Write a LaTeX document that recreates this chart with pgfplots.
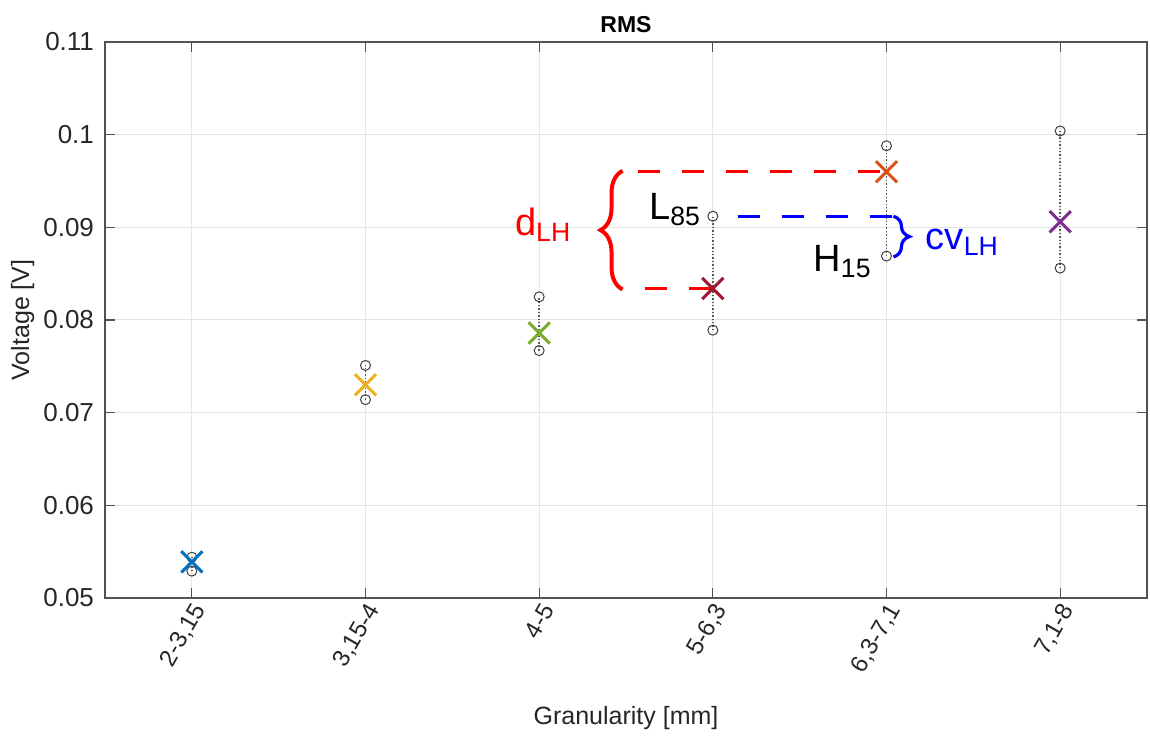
\documentclass[border=0pt]{standalone}
\usepackage{pgfplots}
\pgfplotsset{compat=1.18}
\usepackage{fontspec}
\setmainfont{Liberation Sans}
\usetikzlibrary{decorations.pathreplacing}
\definecolor{mblue}{rgb}{0,0.447,0.741}
\definecolor{myellow}{rgb}{0.929,0.694,0.125}
\definecolor{mgreen}{rgb}{0.466,0.674,0.188}
\definecolor{mdred}{rgb}{0.635,0.078,0.184}
\definecolor{morange}{rgb}{0.85,0.325,0.098}
\definecolor{mpurple}{rgb}{0.494,0.184,0.556}
\definecolor{axgray}{rgb}{0.15,0.15,0.15}
\definecolor{annred}{rgb}{1,0,0}
\definecolor{annblue}{rgb}{0,0,1}
\begin{document}
\begin{tikzpicture}
\begin{axis}[
  name=ax,
  scale only axis,
  width=521pt, height=278pt,
  xmin=-0.5, xmax=5.5,
  ymin=0.05, ymax=0.11,
  xtick={0,1,2,3,4,5},
  xticklabels={2-3{,}15,3{,}15-4,4-5,5-6{,}3,6{,}3-7{,}1,7{,}1-8},
  ytick={0.05,0.06,0.07,0.08,0.09,0.1,0.11},
  yticklabels={0.05,0.06,0.07,0.08,0.09,0.1,0.11},
  xticklabel style={xshift=6pt, yshift=-1pt, rotate=60, anchor=east, font=\fontsize{12}{14}\selectfont, text=axgray},
  yticklabel style={xshift=-2pt, font=\fontsize{13}{15}\selectfont, text=axgray},
  grid=major,
  major grid style={draw=black!10, line width=0.5pt},
  axis line style={draw=axgray!80, line width=0.6pt},
  tick style={draw=axgray!80, line width=0.6pt},
  tick align=inside,
  major tick length=5pt,
  xtick pos=both, ytick pos=both,
  title={\bfseries RMS},
  title style={font=\fontsize{11.5}{13}\selectfont, yshift=-5pt},
  xlabel={Granularity [mm]},
  ylabel={Voltage [V]},
  xlabel style={at={(axis description cs:0.5,-0.216)}, anchor=center, font=\fontsize{12.5}{15}\selectfont, text=axgray},
  ylabel style={at={(axis description cs:-0.079,0.5)}, anchor=center, font=\fontsize{12.5}{15}\selectfont, text=axgray},
  clip=false,
]
% ranges (dotted) with circle marks
\addplot[gray!70!black, densely dotted, line width=0.7pt, mark=o, mark size=2.5pt, mark options={solid, draw=black!75, line width=0.5pt}] coordinates {(0,0.0529) (0,0.0544)};
\addplot[gray!70!black, densely dotted, line width=0.7pt, mark=o, mark size=2.5pt, mark options={solid, draw=black!75, line width=0.5pt}] coordinates {(1,0.0714) (1,0.0751)};
\addplot[gray!70!black, densely dotted, line width=0.7pt, mark=o, mark size=2.5pt, mark options={solid, draw=black!75, line width=0.5pt}] coordinates {(2,0.0767) (2,0.0825)};
\addplot[gray!70!black, densely dotted, line width=0.7pt, mark=o, mark size=2.5pt, mark options={solid, draw=black!75, line width=0.5pt}] coordinates {(3,0.0789) (3,0.0912)};
\addplot[gray!70!black, densely dotted, line width=0.7pt, mark=o, mark size=2.5pt, mark options={solid, draw=black!75, line width=0.5pt}] coordinates {(4,0.0869) (4,0.0988)};
\addplot[gray!70!black, densely dotted, line width=0.7pt, mark=o, mark size=2.5pt, mark options={solid, draw=black!75, line width=0.5pt}] coordinates {(5,0.0856) (5,0.1004)};
% annotations
\draw[annred, line width=1.5pt, dash pattern=on 11pt off 11pt] (axis cs:2.569,0.0960) -- (axis cs:4.0,0.0960);
\draw[annred, line width=1.5pt, dash pattern=on 11pt off 11pt] (axis cs:2.609,0.0834) -- (axis cs:3.0,0.0834);
\draw[annred, line width=2pt, decorate, decoration={brace, amplitude=11pt}] (axis cs:2.48,0.0833) -- (axis cs:2.48,0.0961);
\draw[annblue, line width=1.5pt, dash pattern=on 11pt off 11pt] (axis cs:3.144,0.0912) -- (axis cs:4.04,0.0912);
\draw[annblue, line width=1.6pt, decorate, decoration={brace, amplitude=8pt}] (axis cs:4.04,0.0912) -- (axis cs:4.04,0.0868);
\node[annred, font=\fontsize{19}{22}\selectfont] at (axis cs:2.023,0.0903) {d\textsubscript{LH}};
\node[annblue, font=\fontsize{19}{22}\selectfont] at (axis cs:4.437,0.0884) {cv\textsubscript{LH}};
\node[black, font=\fontsize{19}{22}\selectfont] at (axis cs:2.782,0.0919) {L\textsubscript{85}};
\node[black, font=\fontsize{19}{22}\selectfont] at (axis cs:3.747,0.0863) {H\textsubscript{15}};
% centre marks
\addplot[only marks, mark=x, mark size=7.5pt, mark options={draw=mblue, line width=1.5pt}] coordinates {(0,0.0539)};
\addplot[only marks, mark=x, mark size=7.5pt, mark options={draw=myellow, line width=1.5pt}] coordinates {(1,0.0730)};
\addplot[only marks, mark=x, mark size=7.5pt, mark options={draw=mgreen, line width=1.5pt}] coordinates {(2,0.0786)};
\addplot[only marks, mark=x, mark size=7.5pt, mark options={draw=mdred, line width=1.5pt}] coordinates {(3,0.0834)};
\addplot[only marks, mark=x, mark size=7.5pt, mark options={draw=morange, line width=1.5pt}] coordinates {(4,0.0960)};
\addplot[only marks, mark=x, mark size=7.5pt, mark options={draw=mpurple, line width=1.5pt}] coordinates {(5,0.0906)};
\end{axis}
\path ([xshift=-52.5pt, yshift=-68.5pt]ax.south west) rectangle ([xshift=1.5pt, yshift=21pt]ax.north east);
\end{tikzpicture}
\end{document}
